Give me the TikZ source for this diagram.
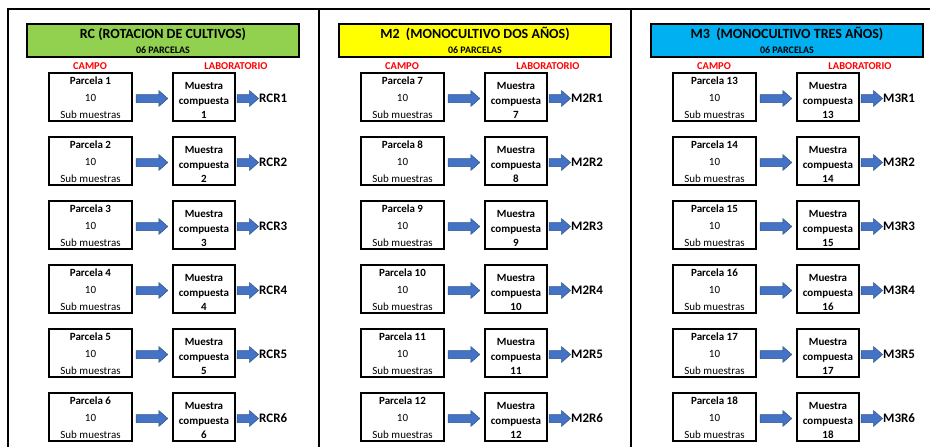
\documentclass[tikz,border=0pt]{standalone}
\usepackage{fontspec}
\setmainfont{Carlito}
\usetikzlibrary{calc}

\definecolor{rcgreen}{HTML}{92D050}
\definecolor{mtwoyellow}{HTML}{FFFF00}
\definecolor{mthreeblue}{HTML}{00B0F0}
\definecolor{arrowfill}{HTML}{4472C4}
\definecolor{arrowedge}{HTML}{2F528F}

\tikzset{
  header/.style={draw, line width=1.4pt, minimum width=272pt, minimum height=33pt, inner sep=0pt},
  parcelabox/.style={draw, line width=1.4pt, minimum width=83pt, minimum height=48pt, inner sep=0pt},
  muestrabox/.style={draw, line width=1.4pt, minimum width=62pt, minimum height=48pt, inner sep=0pt},
  parcelatext/.style={inner sep=0pt, align=center, font=\fontsize{11}{17}\selectfont},
  muestratext/.style={inner sep=0pt, align=center, font=\fontsize{11}{14.5}\selectfont\bfseries},
  sitelabel/.style={text=red, inner sep=0pt, font=\fontsize{10.5}{12}\selectfont\bfseries},
  replabel/.style={anchor=west, inner sep=0pt, font=\fontsize{13}{15}\selectfont\bfseries},
  blockarrow/.style={draw=arrowedge, fill=arrowfill, line width=0.5pt,
    to path={let \p1=(\tikztostart), \p2=(\tikztotarget) in
      (\x1,\y1+4pt) -- (\x2-9pt,\y1+4pt) -- (\x2-9pt,\y1+8pt) -- (\x2,\y1)
      -- (\x2-9pt,\y1-8pt) -- (\x2-9pt,\y1-4pt) -- (\x1,\y1-4pt) -- cycle}}
}

\begin{document}
\begin{tikzpicture}[x=1pt, y=-1pt]
  \useasboundingbox (0,0) rectangle (930,447);

  % Outer frame and column separators
  \draw[line width=2.2pt] (8,447) -- (8,9) -- (930,9);
  \draw[line width=2.2pt] (319,9) -- (319,447);
  \draw[line width=2.2pt] (631,9) -- (631,447);

  \foreach \col/\xo/\hcol/\htext/\replab in
    {0/0/rcgreen/{RC (ROTACION DE CULTIVOS)}/RCR,
     1/312/mtwoyellow/{M2~~(MONOCULTIVO DOS AÑOS)}/M2R,
     2/624/mthreeblue/{M3~~(MONOCULTIVO TRES AÑOS)}/M3R}{
    % Treatment header
    \node[header, fill=\hcol] (h\col) at (\xo+163,40.5) {};
    \node[font=\fontsize{14}{16}\selectfont\bfseries] (ht\col) at (\xo+163,34) {\htext};
    \node[font=\fontsize{10}{12}\selectfont\bfseries] (hs\col) at (\xo+163,50) {06 PARCELAS};
    \node[sitelabel] (campo\col) at (\xo+90,66) {CAMPO};
    \node[sitelabel] (lab\col) at (\xo+236,66) {LABORATORIO};

    % Plots, composite samples and replicates
    \foreach \r in {0,...,5}{
      \pgfmathtruncatemacro\n{6*\col+\r+1}
      \pgfmathtruncatemacro\k{\r+1}
      \node[parcelabox] (p\n) at (\xo+90.5,97+64*\r) {};
      \node[parcelatext] (pt\n) at (\xo+90.5,98+64*\r) {\textbf{Parcela \n}\\10\\Sub muestras};
      \node[muestrabox] (m\n) at (\xo+204,97+64*\r) {};
      \node[muestratext] (mt\n) at (\xo+204,100.5+64*\r) {Muestra\\compuesta\\\n};
      \node[replabel] (r\n) at (\xo+259,98.5+64*\r) {\replab\k};
      \path[blockarrow] ([xshift=3.5pt,yshift=-1.5pt]p\n.east) to ([xshift=-4.5pt,yshift=-1.5pt]m\n.west);
      \path[blockarrow] ([xshift=1.5pt,yshift=-1.5pt]m\n.east) to ([xshift=-0.5pt]r\n.west);
    }
  }
\end{tikzpicture}
\end{document}
